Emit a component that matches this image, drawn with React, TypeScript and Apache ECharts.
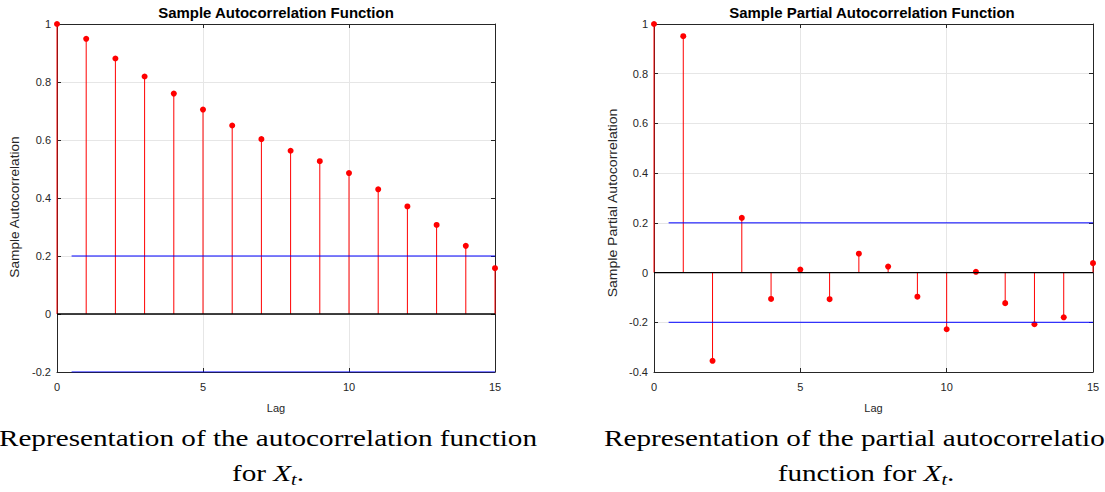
import React, { useEffect, useRef } from "react";
import * as echarts from "echarts";

const lags = [0, 1, 2, 3, 4, 5, 6, 7, 8, 9, 10, 11, 12, 13, 14, 15];
const acfValues = [1, 0.949, 0.881, 0.819, 0.76, 0.705, 0.65, 0.603, 0.563, 0.527, 0.486, 0.43, 0.371, 0.307, 0.235, 0.158];
const pacfValues = [1, 0.951, -0.355, 0.22, -0.106, 0.012, -0.107, 0.076, 0.024, -0.097, -0.228, 0.003, -0.123, -0.208, -0.18, 0.038];
const boundStartLag = 0.5;
const boundEndLag = 15;
const acfBound = 0.2;
const pacfBound = 0.2;

const titles = ["Sample Autocorrelation Function", "Sample Partial Autocorrelation Function"];
const yNames = ["Sample Autocorrelation", "Sample Partial Autocorrelation"];
const xName = "Lag";
const yRanges = [
  [-0.2, 1],
  [-0.4, 1],
];
const captionLeft1 = "Representation of the autocorrelation function";
const captionLeft2 = "for {i|X}{s|t}.";
const captionRight1 = "Representation of the partial autocorrelation";
const captionRight2 = "function for {i|X}{s|t}.";

const AXIS_COLOR = "#262626";
const FONT = "'Liberation Sans', Arial, sans-serif";
const SERIF = "'Liberation Serif', 'Times New Roman', serif";

const stemRender = (params: any, api: any) => {
  const x = api.value(0);
  const y = api.value(1);
  const p0 = api.coord([x, 0]);
  const p1 = api.coord([x, y]);
  return {
    type: "group",
    children: [
      { type: "line", shape: { x1: p0[0], y1: p0[1], x2: p1[0], y2: p1[1] }, style: { stroke: "#ff0000", lineWidth: 1 } },
      { type: "circle", shape: { cx: p1[0], cy: p1[1], r: 3 }, style: { fill: "#ff0000" } },
    ],
  };
};

export default function App() {
  const ref = useRef<HTMLDivElement>(null);
  useEffect(() => {
    if (!ref.current) return;
    const chart = echarts.init(ref.current, null, { renderer: "svg" });
    const grids = [
      { left: 57, top: 24, width: 438, height: 348 },
      { left: 654, top: 24, width: 439, height: 348 },
    ];
    const xAxis: any[] = [];
    const yAxis: any[] = [];
    const series: any[] = [];
    const datasets = [acfValues, pacfValues];
    const bounds = [acfBound, pacfBound];
    grids.forEach((g, i) => {
      xAxis.push({
        type: "value",
        gridIndex: i,
        min: 0,
        max: 15,
        interval: 5,
        name: xName,
        nameLocation: "middle",
        nameGap: 30,
        nameTextStyle: { color: AXIS_COLOR, fontSize: 11, fontFamily: FONT },
        axisLine: { show: true, onZero: false, lineStyle: { color: AXIS_COLOR, width: 1 } },
        axisTick: { show: true, inside: true, length: 4, lineStyle: { color: AXIS_COLOR } },
        axisLabel: { color: AXIS_COLOR, fontSize: 11, fontFamily: FONT, margin: 9 },
        splitLine: { show: true, lineStyle: { color: "#e6e6e6", width: 1 } },
      });
      xAxis.push({
        type: "value",
        gridIndex: i,
        position: "top",
        min: 0,
        max: 15,
        interval: 5,
        axisLine: { show: true, onZero: false, lineStyle: { color: AXIS_COLOR, width: 1 } },
        axisTick: { show: true, inside: true, length: 4, lineStyle: { color: AXIS_COLOR } },
        axisLabel: { show: false },
        splitLine: { show: false },
      });
      yAxis.push({
        type: "value",
        gridIndex: i,
        min: yRanges[i][0],
        max: yRanges[i][1],
        interval: 0.2,
        axisLine: { show: true, onZero: false, lineStyle: { color: AXIS_COLOR, width: 1 } },
        axisTick: { show: true, inside: true, length: 4, lineStyle: { color: AXIS_COLOR } },
        axisLabel: {
          color: AXIS_COLOR,
          fontSize: 11,
          fontFamily: FONT,
          margin: 6,
          formatter: (v: number) => String(Math.round(v * 10) / 10),
        },
        splitLine: { show: true, lineStyle: { color: "#e6e6e6", width: 1 } },
      });
      yAxis.push({
        type: "value",
        gridIndex: i,
        position: "right",
        min: yRanges[i][0],
        max: yRanges[i][1],
        interval: 0.2,
        axisLine: { show: true, onZero: false, lineStyle: { color: AXIS_COLOR, width: 1 } },
        axisTick: { show: true, inside: true, length: 4, lineStyle: { color: AXIS_COLOR } },
        axisLabel: { show: false },
        splitLine: { show: false },
      });
      const xi = i * 2;
      const yi = i * 2;
      series.push({
        type: "custom",
        xAxisIndex: xi,
        yAxisIndex: yi,
        renderItem: stemRender,
        data: lags.map((l, k) => [l, datasets[i][k]]),
        clip: false,
        z: 2,
      });
      series.push({
        type: "line",
        xAxisIndex: xi,
        yAxisIndex: yi,
        data: [
          [boundStartLag, bounds[i]],
          [boundEndLag, bounds[i]],
        ],
        symbol: "none",
        lineStyle: { color: "#0000ff", width: 1 },
        z: 3,
      });
      series.push({
        type: "line",
        xAxisIndex: xi,
        yAxisIndex: yi,
        data: [
          [boundStartLag, -bounds[i]],
          [boundEndLag, -bounds[i]],
        ],
        symbol: "none",
        lineStyle: { color: "#0000ff", width: 1 },
        z: 3,
      });
      series.push({
        type: "line",
        xAxisIndex: xi,
        yAxisIndex: yi,
        data: [
          [0, 0],
          [15, 0],
        ],
        symbol: "none",
        lineStyle: { color: "#000000", width: 1.3 },
        z: 4,
      });
    });

    const captionRich = {
      i: { fontFamily: SERIF, fontStyle: "italic", fontSize: 23, color: "#000" },
      s: { fontFamily: SERIF, fontStyle: "italic", fontSize: 16, color: "#000", padding: [12, 0, 0, 0] },
    };
    const capFont = `23px ${SERIF}`;
    const capScale = 1.27;

    chart.setOption({
      animation: false,
      backgroundColor: "#ffffff",
      grid: grids,
      xAxis,
      yAxis,
      series,
      graphic: [
        {
          type: "text",
          x: 276,
          y: 13,
          scaleX: 1.07,
          style: { text: titles[0], font: `bold 14px ${FONT}`, fill: "#000", align: "center", verticalAlign: "middle" },
        },
        {
          type: "text",
          x: 872,
          y: 13,
          scaleX: 1.07,
          style: { text: titles[1], font: `bold 14px ${FONT}`, fill: "#000", align: "center", verticalAlign: "middle" },
        },
        {
          type: "text",
          x: 15,
          y: 207,
          rotation: Math.PI / 2,
          scaleX: 1.14,
          style: { text: yNames[0], font: `12px ${FONT}`, fill: AXIS_COLOR, align: "center", verticalAlign: "middle" },
        },
        {
          type: "text",
          x: 613,
          y: 203,
          rotation: Math.PI / 2,
          scaleX: 1.17,
          style: { text: yNames[1], font: `12px ${FONT}`, fill: AXIS_COLOR, align: "center", verticalAlign: "middle" },
        },
        {
          type: "text",
          x: 268,
          y: 427,
          scaleX: capScale,
          style: { text: captionLeft1, font: capFont, fill: "#000", align: "center", verticalAlign: "top" },
        },
        {
          type: "text",
          x: 268,
          y: 460,
          scaleX: capScale,
          style: { text: captionLeft2, font: capFont, fill: "#000", align: "center", rich: captionRich },
        },
        {
          type: "text",
          x: 604,
          y: 427,
          scaleX: capScale,
          style: { text: captionRight1, font: capFont, fill: "#000", align: "left", verticalAlign: "top" },
        },
        {
          type: "text",
          x: 866,
          y: 460,
          scaleX: capScale,
          style: { text: captionRight2, font: capFont, fill: "#000", align: "center", rich: captionRich },
        },
      ],
    });
    return () => chart.dispose();
  }, []);
  return <div ref={ref} style={{ position: "fixed", left: 0, top: 0, width: 1105, height: 492 }} />;
}
